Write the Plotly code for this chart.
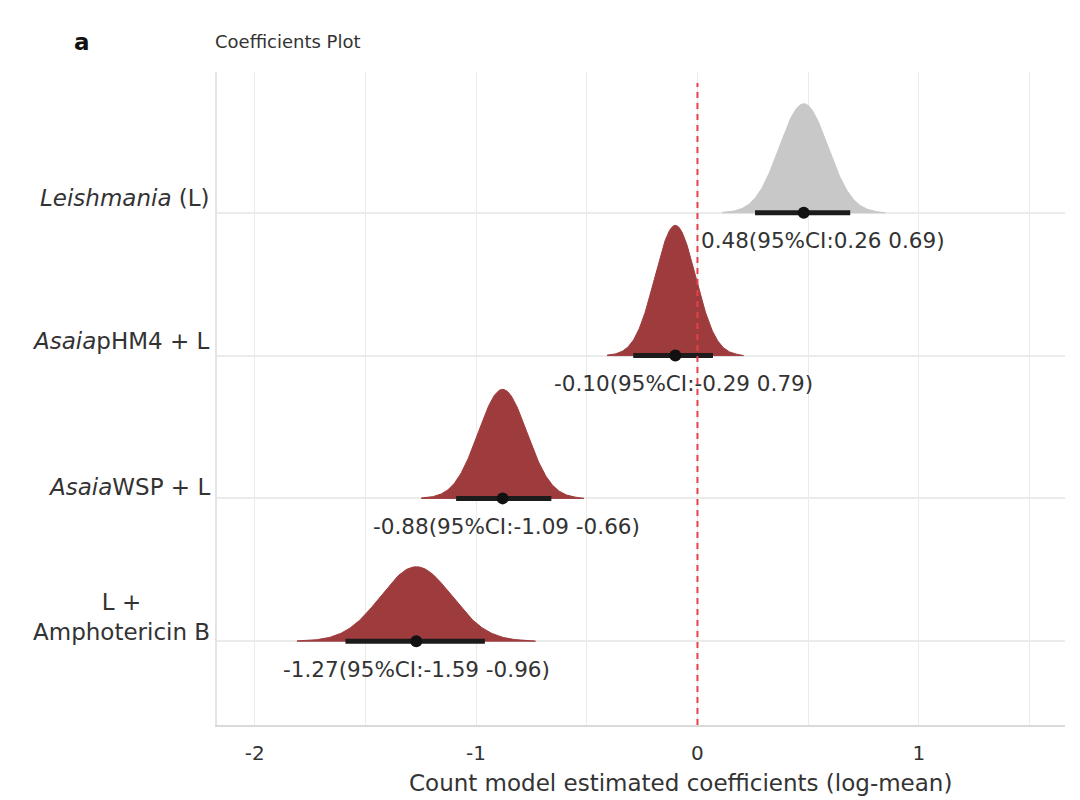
import numpy as np
import plotly.graph_objects as go

# ---- data ----
groups = ["Leishmania (L)", "AsaiapHM4 + L", "AsaiaWSP + L", "L + Amphotericin B"]
group_labels = ["<i>Leishmania</i> (L)", "<i>Asaia</i>pHM4 + L", "<i>Asaia</i>WSP + L", "L +<br>Amphotericin B"]
means = [0.48, -0.10, -0.88, -1.27]
ci_low = [0.26, -0.29, -1.09, -1.59]
ci_high = [0.69, 0.07, -0.66, -0.96]          # drawn interval ends
ci_text = ["0.48(95%CI:0.26 0.69)", "-0.10(95%CI:-0.29 0.79)",
           "-0.88(95%CI:-1.09 -0.66)", "-1.27(95%CI:-1.59 -0.96)"]
baselines = [4, 3, 2, 1]
x_ticks = [-2, -1, 0, 1]
x_tick_text = ["-2", "-1", "0", "1"]
x_minor = [-1.5, -0.5, 0.5, 1.5]

# ---- styles ----
fills = ["#c8c8c8", "#9e3b3c", "#9e3b3c", "#9e3b3c"]
label_xshift = [19, 8, 4, 0]
group_label_yshift = [0, 0, -4, -6]
ridge_scale = 0.21
FONT = "DejaVu Sans"
TXT = "#333333"

fig = go.Figure()

for i in range(len(groups)):
    sd = (ci_high[i] - ci_low[i]) / 3.92
    xs = np.linspace(means[i] - 3.35 * sd, means[i] + 3.35 * sd, 200)
    dens = np.exp(-0.5 * ((xs - means[i]) / sd) ** 2) / (sd * np.sqrt(2 * np.pi))
    ys = baselines[i] + ridge_scale * dens
    px = np.concatenate([xs, xs[::-1]])
    py = np.concatenate([ys, np.full_like(xs, baselines[i])])
    fig.add_trace(go.Scatter(x=px, y=py, fill="toself", fillcolor=fills[i],
                             line=dict(color=fills[i], width=1), mode="lines",
                             hoverinfo="skip", showlegend=False))
    fig.add_trace(go.Scatter(x=[ci_low[i], ci_high[i]], y=[baselines[i], baselines[i]],
                             mode="lines", line=dict(color="#1c1c1c", width=5),
                             showlegend=False, hoverinfo="skip"))
    fig.add_trace(go.Scatter(x=[means[i]], y=[baselines[i]], mode="markers",
                             marker=dict(color="#111111", size=12),
                             showlegend=False, hoverinfo="skip"))
    fig.add_annotation(x=means[i], y=baselines[i], xref="x", yref="y",
                       text=ci_text[i], showarrow=False, xshift=label_xshift[i],
                       yshift=-28, xanchor="center", yanchor="middle",
                       font=dict(family=FONT, size=21.5, color=TXT))
    fig.add_annotation(x=0, y=baselines[i], xref="paper", yref="y",
                       text=group_labels[i], showarrow=False, xshift=-5,
                       yshift=group_label_yshift[i],
                       xanchor="right", yanchor="bottom", align="center",
                       font=dict(family=FONT, size=23, color=TXT))

# red dashed reference line at zero
fig.add_shape(type="line", x0=0, x1=0, xref="x", y0=0, y1=0.983, yref="paper",
              line=dict(color="#e8404a", width=2, dash="6px,5px"), layer="above")

# title, panel letter, axis title
fig.add_annotation(x=0, y=1.046, xref="paper", yref="paper", text="Coefficients Plot",
                   showarrow=False, xanchor="left", yanchor="middle", xshift=-4,
                   font=dict(family=FONT, size=18, color=TXT))
fig.add_annotation(x=-0.159, y=1.046, xref="paper", yref="paper", text="<b>a</b>",
                   showarrow=False, xanchor="center", yanchor="middle",
                   font=dict(family=FONT, size=23, color="#111111"))
fig.add_annotation(x=0.546, y=-0.089, xref="paper", yref="paper",
                   text="Count model estimated coefficients (log-mean)",
                   showarrow=False, xanchor="center", yanchor="middle",
                   font=dict(family=FONT, size=23, color=TXT))

fig.update_layout(
    width=1072, height=792,
    margin=dict(l=209, r=15, t=64, b=75),
    paper_bgcolor="white", plot_bgcolor="white",
    showlegend=False,
    xaxis=dict(range=[-2.17, 1.66], tickvals=x_ticks, ticktext=x_tick_text,
               showgrid=True, gridcolor="#ebebeb", gridwidth=1,
               minor=dict(tickvals=x_minor, showgrid=True, gridcolor="#ebebeb", gridwidth=1),
               zeroline=False, showline=True, linecolor="#d9d9d9", linewidth=2,
               ticks="outside", ticklen=9, tickcolor="rgba(0,0,0,0)",
               tickfont=dict(family=FONT, size=20, color=TXT)),
    yaxis=dict(range=[0.413, 4.986], tickvals=baselines, showticklabels=False,
               showgrid=True, gridcolor="#ebebeb", gridwidth=1.5,
               zeroline=False, showline=True, linecolor="#e3e3e3", linewidth=2,
               ticks=""),
)

fig.write_html("out.html")
